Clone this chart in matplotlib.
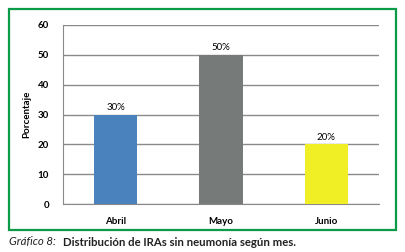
import matplotlib.pyplot as plt
from matplotlib.patches import Rectangle

meses = ["Abril", "Mayo", "Junio"]
porcentajes = [30, 50, 20]
etiquetas = ["30%", "50%", "20%"]
colores = ["#4a82bd", "#767b79", "#f0ee24"]
yticks = [0, 10, 20, 30, 40, 50, 60]

plt.rcParams['font.family'] = ['Lato', 'DejaVu Sans']

fig = plt.figure(figsize=(4.05, 2.52), dpi=100)
W, H = 405, 252

# green frame around the chart
fig.patches.append(Rectangle((9 / W, 1 - 230 / H), 387 / W, 221 / H, transform=fig.transFigure,
                             fill=False, edgecolor="#0a9a48", linewidth=1.6))

ax = fig.add_axes([63 / W, 1 - 204 / H, 316 / W, 179 / H])
bars = ax.bar(range(len(meses)), porcentajes, width=0.41, color=colores, zorder=3)
for b, t in zip(bars, etiquetas):
    ax.annotate(t, (b.get_x() + b.get_width() / 2, b.get_height()), xytext=(0, 2),
                textcoords="offset points", ha="center", va="bottom", fontsize=7)

ax.set_xlim(-0.5, 2.5)
ax.set_ylim(0, 60)
ax.set_yticks(yticks)
ax.yaxis.grid(True, color="#8a8a8a", linewidth=1, zorder=0)
ax.set_xticks(range(len(meses)))
ax.set_xticklabels(meses, fontweight="bold", fontsize=7)
for lab in ax.get_yticklabels():
    lab.set_fontweight("bold")
    lab.set_fontsize(7)
ax.tick_params(axis="x", length=0, pad=9)
ax.tick_params(axis="y", length=0, pad=10)
for s in ["top", "right"]:
    ax.spines[s].set_visible(False)
for s in ["left", "bottom"]:
    ax.spines[s].set_color("#8a8a8a")
ax.set_ylabel("Porcentaje", fontweight="bold", fontsize=7, labelpad=5)

fig.text(9 / W, 1 - 242 / H, "Gráfico 8:", style="italic", fontsize=8.2, va="center", color="#222222")
fig.text(63 / W, 1 - 242 / H, "Distribución de IRAs sin neumonía según mes.", fontweight="bold",
         fontsize=8.2, va="center", color="#222222")

fig.savefig("out.png", dpi=100)
